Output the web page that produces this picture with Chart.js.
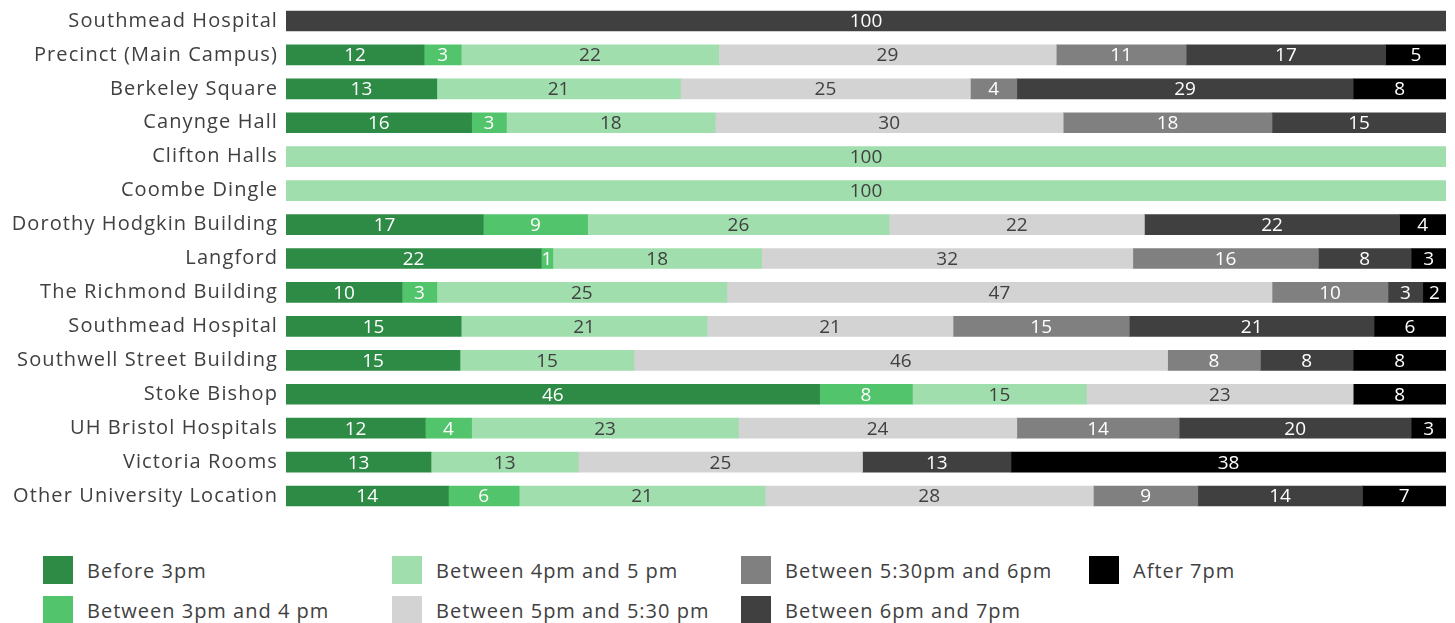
<!DOCTYPE html>
<html>
<head>
<meta charset="utf-8">
<script src="https://cdn.jsdelivr.net/npm/chart.js@4/dist/chart.umd.min.js"></script>
<style>
    body { margin: 0; background: #fff; font-family: "Open Sans", sans-serif; }
    #wrap { position: relative; width: 1455px; height: 623px; overflow: hidden; }
    #chartBox { position: absolute; left: 0; top: 0; width: 1455px; height: 515px; }
    .legend-item { position: absolute; height: 28px; display: flex; align-items: center; color: #404040; font-size: 20px; letter-spacing: 1px; white-space: nowrap; }
    .legend-item span.box { display: inline-block; width: 30px; height: 28px; margin-right: 14px; }
</style>
</head>
<body>
<div id="wrap">
    <div id="chartBox"><canvas id="myCanvas"></canvas></div>
    <div id="legend"></div>
</div>
<script>
const locations = [
    'Southmead Hospital', 'Precinct (Main Campus)', 'Berkeley Square', 'Canynge Hall',
    'Clifton Halls', 'Coombe Dingle', 'Dorothy Hodgkin Building', 'Langford',
    'The Richmond Building', 'Southmead Hospital', 'Southwell Street Building',
    'Stoke Bishop', 'UH Bristol Hospitals', 'Victoria Rooms', 'Other University Location'
];

const seriesNames = [
    'Before 3pm', 'Between 3pm and 4 pm', 'Between 4pm and 5 pm', 'Between 5pm and 5:30 pm',
    'Between 5:30pm and 6pm', 'Between 6pm and 7pm', 'After 7pm'
];

// percentages per location (labels show them rounded)
const before3 =     [0, 11.9, 13, 16, 0, 0, 17, 22, 10, 15.1, 15, 46, 12, 12.5, 14];
const from3to4 =    [0, 3.2, 0, 3, 0, 0, 9, 1, 3, 0, 0, 8, 4, 0, 6.1];
const from4to5 =    [0, 22.2, 21, 18, 100, 100, 26, 18, 25, 21.2, 15, 15, 23, 12.7, 21.2];
const from5to530 =  [0, 29.1, 25, 30, 0, 0, 22, 32, 47, 21.2, 46, 23, 24, 24.5, 28.3];
const from530to6 =  [0, 11.2, 4, 18, 0, 0, 0, 16, 10, 15.2, 8, 0, 14, 0, 9];
const from6to7 =    [100, 17.2, 29, 15, 0, 0, 22, 8, 3, 21.1, 8, 0, 20, 12.8, 14.2];
const after7 =      [0, 5.2, 8, 0, 0, 0, 4, 3, 2, 6.2, 8, 8, 3, 37.5, 7.2];

const seriesValues = [before3, from3to4, from4to5, from5to530, from530to6, from6to7, after7];
const seriesColors = ['#2e8b45', '#52c46c', '#a0dead', '#d3d3d3', '#808080', '#404040', '#000000'];
const labelColors = ['#fff', '#fff', '#404040', '#404040', '#fff', '#fff', '#fff'];

// legend is laid out column by column, two rows
const legendCols = [43, 392, 741, 1089];
const legendRows = [556, 596];

const barLabels = {
    id: 'barLabels',
    beforeUpdate(chart) {
        // wider spacing for the category names
        chart.ctx.letterSpacing = '1.1px';
    },
    afterDatasetsDraw(chart) {
        const ctx = chart.ctx;
        ctx.save();
        ctx.letterSpacing = '0px';
        ctx.font = '19px "Open Sans", sans-serif';
        ctx.textAlign = 'center';
        ctx.textBaseline = 'middle';
        chart.data.datasets.forEach((ds, i) => {
            const meta = chart.getDatasetMeta(i);
            meta.data.forEach((bar, j) => {
                const v = ds.data[j];
                if (!v) return;
                ctx.fillStyle = labelColors[i];
                ctx.fillText(Math.round(v), (bar.x + bar.base) / 2, bar.y + 1);
            });
        });
        ctx.restore();
    }
};

const datasets = seriesNames.map((name, i) => ({
    label: name,
    data: seriesValues[i].map(v => v || null),
    backgroundColor: seriesColors[i],
    borderWidth: 0,
    barThickness: 20
}));

const myCanvas = document.getElementById('myCanvas').getContext('2d');
window.myChart = new Chart(myCanvas, {
    type: 'bar',
    data: { labels: locations, datasets: datasets },
    plugins: [barLabels],
    options: {
        indexAxis: 'y',
        responsive: true,
        maintainAspectRatio: false,
        animation: false,
        layout: { padding: { top: 4, right: 9, bottom: 2, left: 0 } },
        plugins: {
            legend: { display: false },
            tooltip: { enabled: false }
        },
        scales: {
            x: {
                stacked: true,
                display: false,
                min: 0,
                max: 100
            },
            y: {
                stacked: true,
                grid: { display: false, drawTicks: false },
                border: { display: false },
                ticks: {
                    color: '#404040',
                    padding: 8,
                    font: { family: '"Open Sans", sans-serif', size: 20 }
                },
                afterFit(scale) {
                    scale.width = 286;
                    scale.paddingTop = 0;
                    scale.paddingBottom = 0;
                }
            }
        }
    }
});

const legend = document.getElementById('legend');
seriesNames.forEach((name, i) => {
    const item = document.createElement('div');
    item.className = 'legend-item';
    item.style.left = legendCols[Math.floor(i / 2)] + 'px';
    item.style.top = legendRows[i % 2] + 'px';
    item.innerHTML = '<span class="box" style="background:' + seriesColors[i] + '"></span>' + name;
    legend.appendChild(item);
});
</script>
</body>
</html>
